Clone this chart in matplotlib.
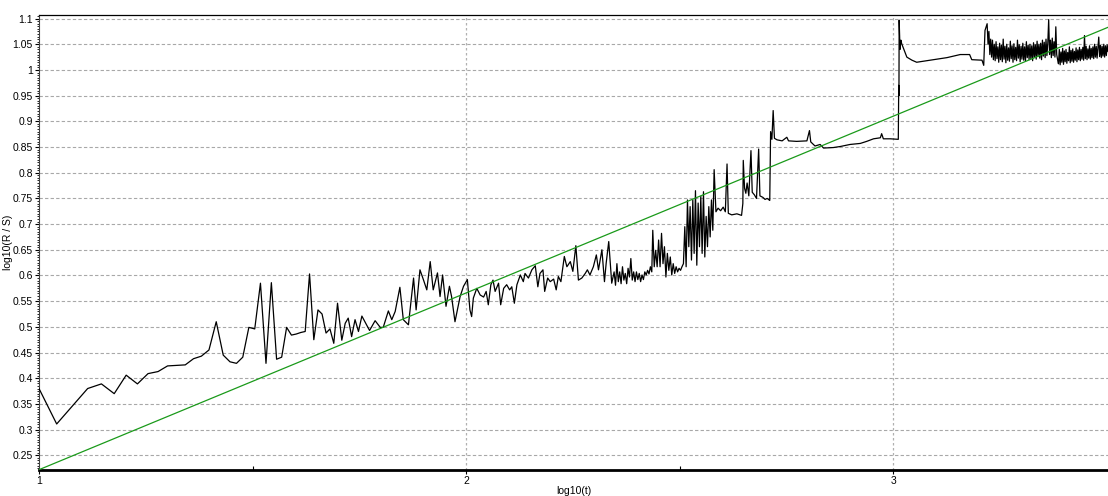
"""Rescaled range (R/S) plot

log10(R/S) against log10(t) with the fitted Hurst line drawn in green.
Values were read off the reference picture.
"""
import numpy as np
import matplotlib
matplotlib.use("Agg")
import matplotlib.pyplot as plt
from matplotlib.ticker import MultipleLocator, FixedLocator, FuncFormatter

plt.rcParams["font.family"] = ["Liberation Sans", "DejaVu Sans"]

# window sizes 10..50, one point per window length
START_N = np.arange(10, 51)
START_Y = [0.380, 0.311, 0.347, 0.380, 0.389, 0.370, 0.406, 0.389, 0.409,
           0.413, 0.424, 0.425, 0.426, 0.438, 0.443, 0.455, 0.510, 0.445,
           0.432, 0.429, 0.441, 0.499, 0.496, 0.585, 0.429, 0.586, 0.437,
           0.441, 0.499, 0.484, 0.486, 0.489, 0.491, 0.603, 0.475, 0.533,
           0.525, 0.488, 0.496, 0.468, 0.546]

# 1.7 .. 2.0
EARLY_X = [1.709, 1.717, 1.724, 1.732, 1.740, 1.748, 1.756, 1.763, 1.774,
           1.787, 1.799, 1.806, 1.818, 1.826, 1.834, 1.845, 1.853, 1.865,
           1.877, 1.883, 1.892, 1.900, 1.908, 1.916, 1.923, 1.933, 1.939,
           1.945, 1.953, 1.961, 1.966, 1.974, 1.986, 1.994, 2.003]
EARLY_Y = [0.474, 0.507, 0.517, 0.481, 0.514, 0.491, 0.521, 0.510, 0.493,
           0.512, 0.499, 0.499, 0.531, 0.514, 0.530, 0.577, 0.514, 0.504,
           0.595, 0.533, 0.611, 0.592, 0.572, 0.627, 0.572, 0.605, 0.559,
           0.601, 0.540, 0.579, 0.559, 0.510, 0.559, 0.579, 0.592]

# 2.0 .. 2.34
MID_X = [2.009, 2.013, 2.017, 2.025, 2.033, 2.041, 2.047, 2.052, 2.058,
         2.063, 2.068, 2.076, 2.081, 2.088, 2.095, 2.102, 2.107, 2.113,
         2.119, 2.127, 2.134, 2.138, 2.146, 2.154, 2.162, 2.168, 2.173,
         2.180, 2.184, 2.191, 2.197, 2.205, 2.211, 2.216, 2.222, 2.230,
         2.236, 2.244, 2.250, 2.257, 2.263, 2.271, 2.279, 2.284, 2.290,
         2.298, 2.305, 2.310, 2.318, 2.324, 2.328, 2.334, 2.341]
MID_Y = [0.533, 0.520, 0.556, 0.575, 0.562, 0.558, 0.569, 0.543, 0.582,
         0.591, 0.569, 0.585, 0.543, 0.575, 0.582, 0.572, 0.578, 0.546,
         0.582, 0.601, 0.588, 0.604, 0.595, 0.611, 0.619, 0.578, 0.604,
         0.611, 0.569, 0.595, 0.588, 0.593, 0.572, 0.598, 0.588, 0.637,
         0.617, 0.627, 0.608, 0.658, 0.591, 0.595, 0.604, 0.611, 0.601,
         0.617, 0.640, 0.611, 0.650, 0.588, 0.624, 0.666, 0.585]

# dense stretches: (first x, last x, evenly spaced readings)
BAND_A = (2.3466, 2.4348,
          [0.607, 0.581, 0.623, 0.588, 0.607, 0.584, 0.617, 0.591, 0.604,
           0.584, 0.614, 0.597, 0.633, 0.591, 0.607, 0.588, 0.607, 0.592,
           0.604, 0.588, 0.601, 0.592, 0.607, 0.601, 0.610, 0.603, 0.617,
           0.607])
BAND_B = (2.4371, 2.5089,
          [0.688, 0.617, 0.649, 0.617, 0.669, 0.617, 0.682, 0.623, 0.656,
           0.597, 0.643, 0.610, 0.636, 0.601, 0.623, 0.604, 0.617, 0.607,
           0.614, 0.610, 0.617, 0.623])
BAND_C = (2.5121, 2.5808,
          [0.695, 0.617, 0.747, 0.656, 0.734, 0.630, 0.747, 0.643, 0.765,
           0.620, 0.741, 0.656, 0.754, 0.643, 0.763, 0.636, 0.715, 0.656,
           0.734, 0.675, 0.747, 0.688, 0.806])

# 2.58 .. 3.22, steps and plateaus
LATE_X = [2.585, 2.590, 2.596, 2.602, 2.607, 2.611, 2.614, 2.622, 2.634,
          2.645, 2.648, 2.649, 2.652, 2.655, 2.658, 2.662, 2.667, 2.670,
          2.675, 2.680, 2.685, 2.688, 2.695, 2.700, 2.705, 2.711, 2.713,
          2.716, 2.719, 2.722, 2.728, 2.740, 2.751, 2.755, 2.774, 2.798,
          2.804, 2.807, 2.817, 2.829, 2.837, 2.860, 2.876, 2.899, 2.923,
          2.938, 2.954, 2.970, 2.973, 2.977, 2.993, 3.012, 3.013, 3.0135,
          3.014, 3.016, 3.018, 3.020, 3.032, 3.044, 3.055, 3.087, 3.126,
          3.157, 3.179, 3.184, 3.208, 3.212, 3.215]
LATE_Y = [0.724, 0.731, 0.726, 0.733, 0.724, 0.817, 0.721, 0.718, 0.720,
          0.717, 0.740, 0.824, 0.770, 0.760, 0.780, 0.755, 0.843, 0.762,
          0.757, 0.750, 0.846, 0.755, 0.752, 0.748, 0.750, 0.746, 0.880,
          0.865, 0.921, 0.867, 0.864, 0.862, 0.869, 0.862, 0.861, 0.862,
          0.882, 0.860, 0.852, 0.855, 0.848, 0.849, 0.851, 0.855, 0.857,
          0.861, 0.866, 0.868, 0.876, 0.866, 0.866, 0.865, 0.970, 0.950,
          1.097, 1.040, 1.058, 1.051, 1.025, 1.019, 1.015, 1.019, 1.024,
          1.030, 1.030, 1.020, 1.019, 1.009, 1.077]

BAND_D = (3.220, 3.385,
          [1.090, 1.050, 1.075, 1.030, 1.060, 1.025, 1.058, 1.020, 1.050,
           1.018, 1.055, 1.022, 1.045, 1.015, 1.052, 1.020, 1.048, 1.016,
           1.060, 1.021, 1.046, 1.014, 1.050, 1.019, 1.043, 1.017, 1.056,
           1.022, 1.047, 1.015, 1.051, 1.020, 1.044, 1.018, 1.058, 1.023,
           1.049, 1.016, 1.046, 1.021, 1.052, 1.019, 1.045, 1.017, 1.055,
           1.024, 1.048, 1.020, 1.050, 1.022, 1.047, 1.018, 1.053, 1.025,
           1.049, 1.021, 1.056, 1.026, 1.050, 1.023, 1.052, 1.020, 1.058,
           1.027, 1.054, 1.024, 1.060, 1.028, 1.052, 1.098, 1.030, 1.058,
           1.024, 1.062, 1.028, 1.055, 1.025, 1.084, 1.030, 1.020])
BAND_E = (3.387, 3.503,
          [1.012, 1.040, 1.010, 1.035, 1.015, 1.042, 1.011, 1.037, 1.016,
           1.040, 1.013, 1.034, 1.018, 1.045, 1.014, 1.038, 1.017, 1.041,
           1.015, 1.036, 1.019, 1.043, 1.016, 1.039, 1.020, 1.044, 1.018,
           1.040, 1.021, 1.044, 1.019, 1.067, 1.022, 1.046, 1.020, 1.041,
           1.023, 1.047, 1.021, 1.042, 1.024, 1.045, 1.022, 1.050, 1.025,
           1.046, 1.023, 1.044, 1.064, 1.026, 1.048, 1.024, 1.046, 1.027,
           1.050, 1.025, 1.047, 1.028, 1.049, 1.036])

# fitted line end points
FIT_X = [1.0, 3.503]
FIT_Y = [0.222, 1.083]


def band_xy(band):
    """Spread the readings of one dense stretch evenly over its x range."""
    x0, x1, ys = band
    return list(np.linspace(x0, x1, len(ys))), list(ys)


def build_series():
    xs = list(np.log10(START_N)) + EARLY_X + MID_X
    ys = list(START_Y) + EARLY_Y + MID_Y
    for band in (BAND_A, BAND_B, BAND_C):
        bx, by = band_xy(band)
        xs += bx
        ys += by
    xs += LATE_X
    ys += LATE_Y
    for band in (BAND_D, BAND_E):
        bx, by = band_xy(band)
        xs += bx
        ys += by
    return xs, ys


def main():
    fig = plt.figure(figsize=(11.08, 4.96), dpi=100)
    ax = fig.add_axes([0.0352, 0.0524, 0.9648, 0.9174])

    xs, ys = build_series()
    ax.plot(xs, ys, color="black", lw=0.9, zorder=3)
    ax.plot(FIT_X, FIT_Y, color="#1a9a1a", lw=0.9, zorder=4)

    ax.set_xlim(1.0, 3.503)
    ax.set_ylim(0.2214, 1.107)

    ax.yaxis.set_major_locator(MultipleLocator(0.05))
    ax.yaxis.set_minor_locator(MultipleLocator(0.005))
    ax.yaxis.set_major_formatter(FuncFormatter(lambda v, p: "%g" % round(v, 3)))
    ax.xaxis.set_major_locator(FixedLocator([1, 2, 3]))
    ax.xaxis.set_minor_locator(FixedLocator([1.5, 2.5]))
    ax.xaxis.set_major_formatter(FuncFormatter(lambda v, p: "%g" % v))

    ax.tick_params(axis="both", which="major", labelsize=7.5, length=3,
                   width=0.8, pad=1.5, colors="black")
    ax.tick_params(axis="y", which="minor", length=1.5, width=0.6)
    ax.tick_params(axis="x", which="minor", direction="in", length=3,
                   width=0.8)

    ax.grid(axis="y", which="major", color="#a8a8a8", linestyle=(0, (3, 2)),
            lw=0.8)
    for gx in (2, 3):
        ax.axvline(gx, color="#b0b0b0", linestyle=(0, (2, 2)), lw=0.9,
                   zorder=1)

    ax.spines["right"].set_visible(False)
    ax.spines["top"].set_linewidth(0.9)
    ax.spines["left"].set_linewidth(0.8)
    ax.spines["left"].set_color("#404040")
    ax.spines["bottom"].set_linewidth(2.0)

    ax.set_xlabel("log10(t)", fontsize=7.5, va="bottom")
    ax.xaxis.set_label_coords(0.5, -0.057)
    ax.set_ylabel("log10(R / S)", fontsize=7.5)
    ax.yaxis.set_label_coords(-0.024, 0.5)

    fig.savefig("out.png", dpi=100)
    plt.close(fig)


if __name__ == "__main__":
    main()
